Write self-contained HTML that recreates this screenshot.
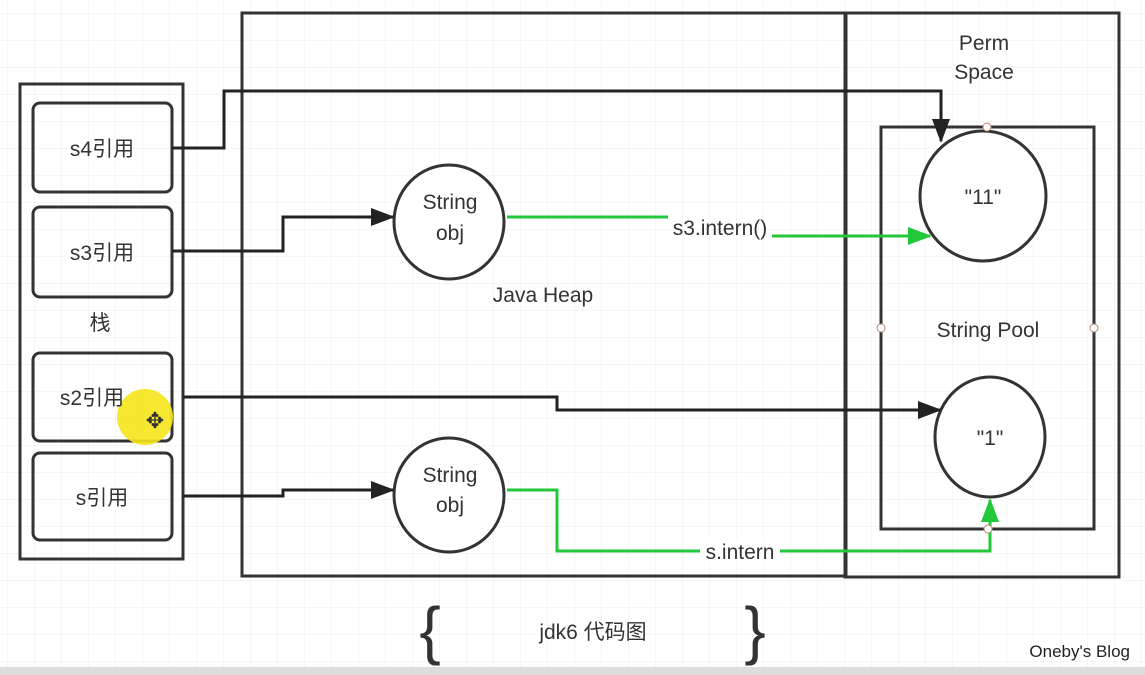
<!DOCTYPE html>
<html><head><style>
body{margin:0;background:#fff}
svg{display:block;font-family:"Liberation Sans","Noto Sans CJK SC",sans-serif}
</style></head><body>
<svg width="1145" height="675" viewBox="0 0 1145 675">
<defs>
<pattern id="g" width="27" height="27" patternUnits="userSpaceOnUse" x="8" y="14">
<path d="M27 0V27M0 27H27" stroke="#ececec" stroke-width="1" fill="none"/>
</pattern>
<marker id="ab" markerWidth="24" markerHeight="18" refX="22" refY="9" orient="auto" markerUnits="userSpaceOnUse" viewBox="0 0 24 18"><path d="M0 0L24 9L0 18z" fill="#222"/></marker>
<marker id="ag" markerWidth="24" markerHeight="18" refX="22" refY="9" orient="auto" markerUnits="userSpaceOnUse" viewBox="0 0 24 18"><path d="M0 0L24 9L0 18z" fill="#22c83a"/></marker>
</defs>
<rect width="1145" height="675" fill="url(#g)"/>
<rect x="0" y="667" width="1145" height="8" fill="#ddd"/>
<g fill="none" stroke="#333" stroke-width="3">
<rect x="20" y="84" width="163" height="475"/>
<rect x="33" y="103" width="139" height="89" rx="7"/>
<rect x="33" y="207" width="139" height="90" rx="7"/>
<rect x="33" y="353" width="139" height="88" rx="7"/>
<rect x="33" y="453" width="139" height="87" rx="7"/>
<rect x="242" y="13" width="604" height="563"/>
<rect x="845" y="13" width="274" height="564"/>
<rect x="881" y="127" width="213" height="402"/>
<ellipse cx="449" cy="222" rx="55" ry="57" fill="#fff"/>
<ellipse cx="449" cy="495" rx="55" ry="57" fill="#fff"/>
<ellipse cx="983" cy="196" rx="63" ry="65" fill="#fff"/>
<ellipse cx="990" cy="437" rx="55" ry="60" fill="#fff"/>
</g>
<g fill="none" stroke="#222" stroke-width="3">
<path d="M172 148H224V91H941V141" marker-end="url(#ab)"/>
<path d="M172 251H283V217H393" marker-end="url(#ab)"/>
<path d="M183 397H557V410H940" marker-end="url(#ab)"/>
<path d="M183 496H283V490H393" marker-end="url(#ab)"/>
</g>
<g fill="none" stroke="#22c83a" stroke-width="3">
<path d="M507 217H668"/>
<path d="M772 236H930" marker-end="url(#ag)"/>
<path d="M507 490H557V551H990V500" marker-end="url(#ag)"/>
</g>
<rect x="700" y="540" width="80" height="22" fill="#fff"/>
<g fill="#fff" stroke="#b87" stroke-width="1">
<circle cx="987" cy="127" r="4"/><circle cx="881" cy="328" r="4"/><circle cx="1094" cy="328" r="4"/><circle cx="988" cy="529" r="4"/>
</g>
<circle cx="145" cy="417" r="28" fill="#f5e61a" opacity="0.9"/>
<text x="155" y="428" font-size="22" text-anchor="middle" fill="#333">✥</text>
<g font-size="21" fill="#333" text-anchor="middle">
<text x="102" y="156">s4引用</text>
<text x="102" y="260">s3引用</text>
<text x="100" y="330">栈</text>
<text x="92" y="405">s2引用</text>
<text x="102" y="505">s引用</text>
<text x="450" y="209">String</text><text x="450" y="240">obj</text>
<text x="450" y="482">String</text><text x="450" y="512">obj</text>
<text x="543" y="302">Java Heap</text>
<text x="720" y="235">s3.intern()</text>
<text x="740" y="559">s.intern</text>
<text x="984" y="50">Perm</text><text x="984" y="79">Space</text>
<text x="988" y="337">String Pool</text>
<text x="983" y="204">"11"</text>
<text x="990" y="445">"1"</text>
<text x="593" y="639">jdk6 代码图</text>
</g>
<g font-size="64" fill="#333" text-anchor="middle">
<text x="430" y="652">{</text><text x="755" y="652">}</text>
</g>
<text x="1130" y="657" font-size="17" fill="#222" text-anchor="end">Oneby's Blog</text>
</svg>
</body></html>
